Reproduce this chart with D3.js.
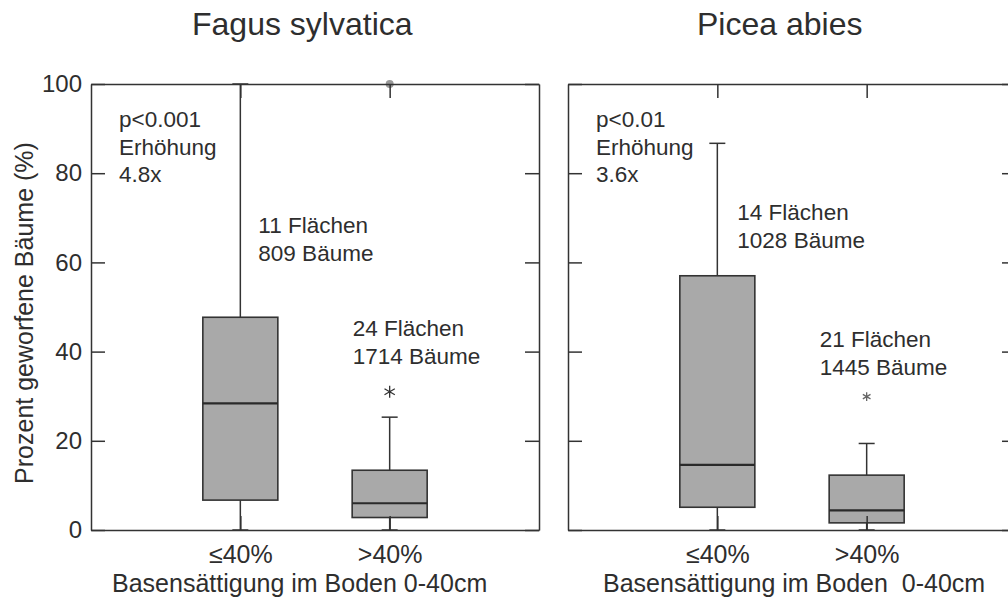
<!DOCTYPE html>
<html>
<head>
<meta charset="utf-8">
<script src="https://cdn.jsdelivr.net/npm/d3@7"></script>
<style>
  body { margin: 0; background: #fff; }
  svg text { font-family: "Liberation Sans", Arial, sans-serif; fill: #2e2e2e; }
  .axis path, .axis line { stroke: #333; stroke-width: 1.5; }
  .axis text { font-size: 24px; fill: #2e2e2e; }
</style>
</head>
<body>
<div id="chart"></div>
<script>
// one panel per species, two groups of base saturation
const species = ["Fagus sylvatica", "Picea abies"];
const groups = ["≤40%", ">40%"];
const yTicks = [0, 20, 40, 60, 80, 100];

// box statistics [species][group]
const whiskLo = [[0, 0], [0, 0]];
const boxLo   = [[6.7, 2.8], [5.1, 1.6]];
const medians = [[28.4, 6.0], [14.6, 4.4]];
const boxHi   = [[47.7, 13.4], [57.0, 12.3]];
const whiskHi = [[100, 25.3], [86.7, 19.4]];
const outCircles = [[[], [100]], [[], []]];
const outStars   = [[[], [31.0]], [[], [29.9]]];

// annotations
const pValues  = ["p<0.001", "p<0.01"];
const increase = ["4.8x", "3.6x"];
const nPlots   = [[11, 24], [14, 21]];
const nTrees   = [[809, 1714], [1028, 1445]];
const xTitles  = ["Basensättigung im Boden 0-40cm", "Basensättigung im Boden  0-40cm"];

var width = 1008, height = 601;
var panelW = 448, plotTop = 84, plotBottom = 530;
var panelX = [91, 568];
var titleX = [192, 697];
var xTitleX = [112, 603];
// label offsets relative to category position: [dx, baseline]
var nLabelPos = [[[18, 233], [-37, 336]], [[20, 220], [-47, 347]]];

var svg = d3.select("#chart").append("svg")
    .attr("width", width)
    .attr("height", height);

var y = d3.scaleLinear().domain([0, 100]).range([plotBottom, plotTop]);
var x = d3.scalePoint().domain(groups).range([0, panelW]).padding(1);

species.forEach((sp, s) => {
    var g = svg.append("g").attr("transform", `translate(${panelX[s]},0)`);

    // title
    svg.append("text")
        .attr("x", titleX[s]).attr("y", 35)
        .style("font-size", "32px")
        .text(sp);

    // boxes
    var bw = 75, cap = 16;
    groups.forEach((gr, i) => {
        var cx = x(gr);
        var b = g.append("g");
        // whiskers
        b.append("line")
            .attr("x1", cx).attr("x2", cx)
            .attr("y1", y(boxHi[s][i])).attr("y2", y(whiskHi[s][i]))
            .attr("stroke", "#333").attr("stroke-width", 1.5);
        b.append("line")
            .attr("x1", cx).attr("x2", cx)
            .attr("y1", y(boxLo[s][i])).attr("y2", y(whiskLo[s][i]))
            .attr("stroke", "#333").attr("stroke-width", 1.5);
        [whiskHi[s][i], whiskLo[s][i]].forEach(v => {
            b.append("line")
                .attr("x1", cx - cap / 2).attr("x2", cx + cap / 2)
                .attr("y1", y(v)).attr("y2", y(v))
                .attr("stroke", "#333").attr("stroke-width", 1.5);
        });
        b.append("rect")
            .attr("x", cx - bw / 2)
            .attr("y", y(boxHi[s][i]))
            .attr("width", bw)
            .attr("height", y(boxLo[s][i]) - y(boxHi[s][i]))
            .attr("fill", "#a9a9a9")
            .attr("stroke", "#333").attr("stroke-width", 1.6);
        b.append("line")
            .attr("x1", cx - bw / 2).attr("x2", cx + bw / 2)
            .attr("y1", y(medians[s][i])).attr("y2", y(medians[s][i]))
            .attr("stroke", "#2a2a2a").attr("stroke-width", 2.2);

        outCircles[s][i].forEach(v => {
            b.append("circle")
                .attr("cx", cx).attr("cy", y(v)).attr("r", 4)
                .attr("fill", "#9a9a9a");
        });
        outStars[s][i].forEach(v => {
            b.append("path")
                .attr("transform", `translate(${cx},${y(v)})`)
                .attr("d", d3.symbol(d3.symbolAsterisk, s === 0 ? 100 : 55)())
                .attr("fill", "none")
                .attr("stroke", s === 0 ? "#333" : "#666")
                .attr("stroke-width", 1.3);
        });

        // n labels
        var pos = nLabelPos[s][i];
        var t = g.append("text")
            .attr("x", cx + pos[0]).attr("y", pos[1])
            .style("font-size", "22.5px");
        t.append("tspan").attr("x", cx + pos[0]).text(nPlots[s][i] + " Flächen");
        t.append("tspan").attr("x", cx + pos[0]).attr("dy", 28).text(nTrees[s][i] + " Bäume");
    });

    // axes (ticks pointing inward), drawn over the boxes
    g.append("g").attr("class", "axis")
        .call(d3.axisLeft(y).tickValues(yTicks).tickSize(-14).tickSizeOuter(0).tickPadding(9)
            .tickFormat(s === 0 ? d3.format("d") : () => ""));
    g.append("g").attr("class", "axis")
        .attr("transform", `translate(${panelW},0)`)
        .call(d3.axisRight(y).tickValues(yTicks).tickSize(-14).tickSizeOuter(0).tickFormat(() => ""));
    g.append("g").attr("class", "axis")
        .attr("transform", `translate(0,${plotTop})`)
        .call(d3.axisTop(x).tickSize(-14).tickSizeOuter(0).tickFormat(() => ""));
    var xb = g.append("g").attr("class", "axis")
        .attr("transform", `translate(0,${plotBottom})`)
        .call(d3.axisBottom(x).tickSize(-14).tickSizeOuter(0).tickPadding(15));
    xb.selectAll("text").style("font-size", "25px");

    // the grey outlier dot sits on the frame
    g.selectAll("circle").raise();

    // x title
    svg.append("text")
        .attr("x", xTitleX[s]).attr("y", 592)
        .attr("xml:space", "preserve")
        .style("white-space", "pre")
        .style("font-size", "25px")
        .text(xTitles[s]);

    // significance note
    var note = g.append("text")
        .attr("x", 28).attr("y", 127)
        .style("font-size", "22.5px");
    [pValues[s], "Erhöhung", increase[s]].forEach((line, k) => {
        note.append("tspan").attr("x", 28).attr("dy", k === 0 ? 0 : 27.5).text(line);
    });
});

// y axis title
svg.append("text")
    .attr("transform", "translate(33,313) rotate(-90)")
    .attr("text-anchor", "middle")
    .style("font-size", "25px")
    .text("Prozent geworfene Bäume (%)");
</script>
</body>
</html>
